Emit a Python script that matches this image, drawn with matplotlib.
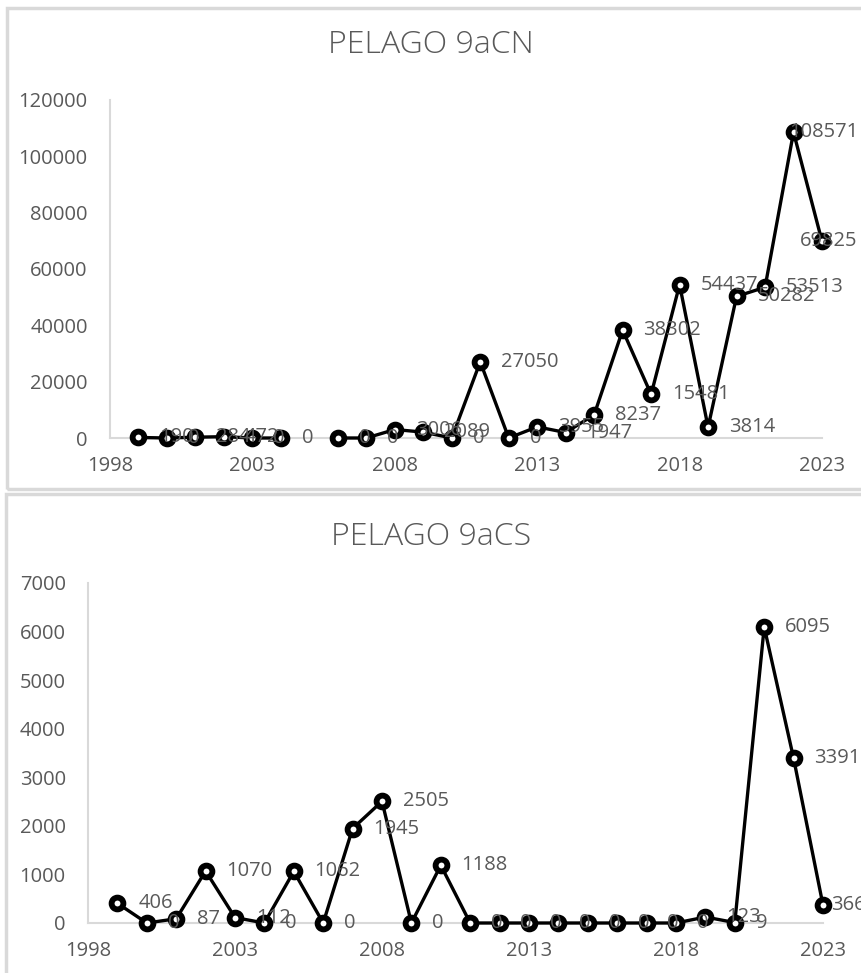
import matplotlib
matplotlib.use("Agg")
import matplotlib.pyplot as plt
from matplotlib.patches import Rectangle
import numpy as np

plt.rcParams['font.family'] = ['Open Sans', 'DejaVu Sans']

years = list(range(1999, 2024))

# PELAGO 9aCN (2005 not sampled)
cn_values = [190, 0, 284, 472, 0, 0, np.nan, 0, 0, 3006, 2089, 0, 27050, 0,
             3955, 1947, 8237, 38302, 15481, 54437, 3814, 50282, 53513,
             108571, 69825]
# PELAGO 9aCS
cs_values = [406, 0, 87, 1070, 112, 0, 1062, 0, 1945, 2505, 0, 1188, 0, 0,
             0, 0, 0, 0, 0, 0, 123, 9, 6095, 3391, 366]

x_ticks = [1998, 2003, 2008, 2013, 2018, 2023]
cn_yticks = [0, 20000, 40000, 60000, 80000, 100000, 120000]
cs_yticks = [0, 1000, 2000, 3000, 4000, 5000, 6000, 7000]

W, H = 862, 973
TXT = "#595959"
GRID = "#d9d9d9"

fig = plt.figure(figsize=(W / 100, H / 100), dpi=100)


def px_axes(left, right, y0, ytop):
    # build axes from pixel positions of the plot area
    return fig.add_axes([left / W, 1 - y0 / H, (right - left) / W, (y0 - ytop) / H])


def draw_panel(ax, values, yticks, title, title_y, label_shift):
    ax.plot(years, values, color="black", lw=2.4, marker="o", ms=8.5,
            mfc="white", mec="black", mew=4.2, clip_on=False, zorder=3)
    for yr, v in zip(years, values):
        if np.isnan(v):
            continue
        dx = label_shift.get(yr, 15)
        ax.annotate(f"{int(v)}", (yr, v), xytext=(dx, 0), textcoords="offset points",
                    ha="left", va="center", fontsize=14.5, color=TXT,
                    annotation_clip=False, zorder=4)
    ax.set_xlim(1998, 2023)
    ax.set_ylim(yticks[0], yticks[-1])
    ax.set_xticks(x_ticks)
    ax.set_yticks(yticks)
    ax.tick_params(axis="x", length=0, pad=13, labelsize=14.5, labelcolor=TXT)
    ax.tick_params(axis="y", length=0, pad=16, labelsize=14.5, labelcolor=TXT)
    for s in ["top", "right"]:
        ax.spines[s].set_visible(False)
    for s in ["left", "bottom"]:
        ax.spines[s].set_color(GRID)
        ax.spines[s].set_linewidth(1.5)
    fig.text(0.5, 1 - title_y / H, title, ha="center", va="center",
             fontsize=23, color=TXT, fontweight="light")


# chart frames
fig.add_artist(Rectangle((7 / W, 1 - 489 / H), 1.0, 481 / H, transform=fig.transFigure,
                         fill=False, ec=GRID, lw=2.5))
fig.add_artist(Rectangle((6 / W, -0.05), 1.0, 1 - 494 / H + 0.05, transform=fig.transFigure,
                         fill=False, ec=GRID, lw=2.5))

ax1 = px_axes(110, 822, 438, 100)
draw_panel(ax1, cn_values, cn_yticks, "PELAGO 9aCN", 45, {2022: -3, 2023: -16})

ax2 = px_axes(88, 823, 923, 583)
draw_panel(ax2, cs_values, cs_yticks, "PELAGO 9aCS", 537, {2023: 6})

fig.savefig("out.png", dpi=100)
